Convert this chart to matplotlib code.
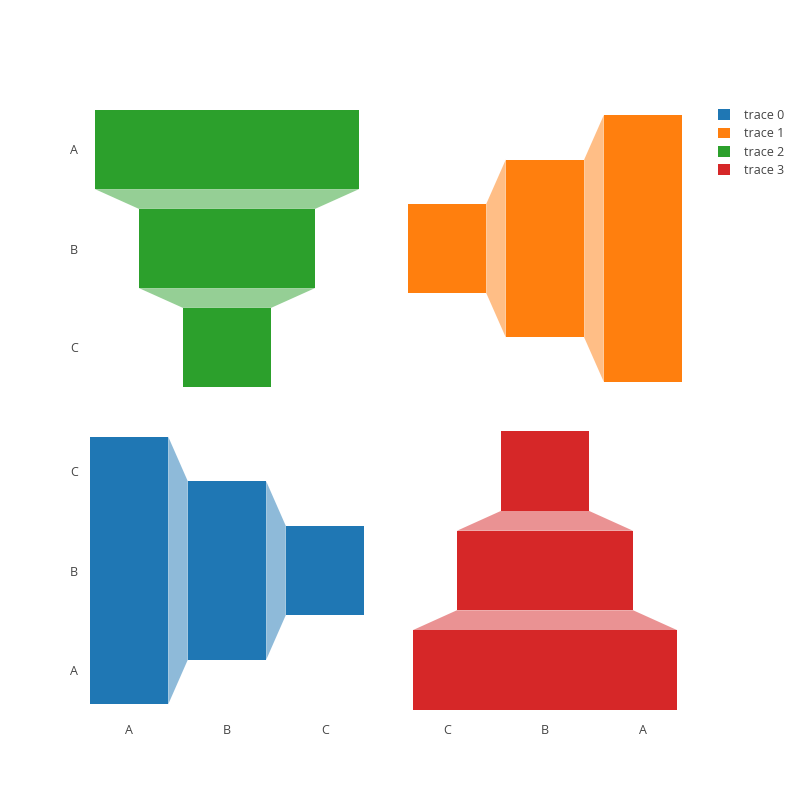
import matplotlib
matplotlib.use("Agg")
import matplotlib.pyplot as plt
from matplotlib.patches import Patch

plt.rcParams['font.family'] = ['Open Sans', 'DejaVu Sans']

# trace 0: vertical funnel, bottom-left
trace0_x = ['A', 'B', 'C']
trace0_y = [3, 2, 1]
# trace 1: vertical funnel, top-right
trace1_x = ['C', 'B', 'A']
trace1_y = [1, 2, 3]
# trace 2: horizontal funnel, top-left
trace2_y = ['A', 'B', 'C']
trace2_x = [3, 2, 1]
# trace 3: horizontal funnel, bottom-right
trace3_y = ['A', 'B', 'C']
trace3_x = [3, 2, 1]

names = ['trace 0', 'trace 1', 'trace 2', 'trace 3']
colors = ['#1f77b4', '#ff7f0e', '#2ca02c', '#d62728']
TXT = '#444444'


def funnel(ax, values, color, horizontal, width=0.8):
    h = width / 2
    for i, v in enumerate(values):
        if horizontal:
            ax.fill_between([-v / 2, v / 2], i - h, i + h, color=color, lw=0)
        else:
            ax.fill_between([i - h, i + h], -v / 2, v / 2, color=color, lw=0)
    # connectors between consecutive bars
    for i in range(len(values) - 1):
        a, b = values[i] / 2, values[i + 1] / 2
        if horizontal:
            xs = [-a, a, b, -b]
            ys = [i + h, i + h, i + 1 - h, i + 1 - h]
        else:
            xs = [i + h, i + h, i + 1 - h, i + 1 - h]
            ys = [-a, a, b, -b]
        ax.fill(xs, ys, color=color, alpha=0.5, lw=0)
    vmax = max(values) / 2 * 1.113
    n = len(values)
    if horizontal:
        ax.set_xlim(-vmax, vmax)
        ax.set_ylim(-0.5, n - 0.5)
    else:
        ax.set_ylim(-vmax, vmax)
        ax.set_xlim(-0.5, n - 0.5)


def clean(ax):
    for s in ax.spines.values():
        s.set_visible(False)
    ax.set_xticks([])
    ax.set_yticks([])
    ax.patch.set_alpha(0)


fig = plt.figure(figsize=(8, 8), dpi=100)

W, H = 800, 800
colL = (80, 374)
colR = (398, 692)
rowT = (100, 397)
rowB = (421.5, 719.5)


def rect(col, row):
    return [col[0] / W, 1 - row[1] / H, (col[1] - col[0]) / W, (row[1] - row[0]) / H]


ax_tl = fig.add_axes(rect(colL, rowT))
ax_tr = fig.add_axes(rect(colR, rowT))
ax_bl = fig.add_axes(rect(colL, rowB))
ax_br = fig.add_axes(rect(colR, rowB))

funnel(ax_tl, trace2_x, colors[2], True)
funnel(ax_tr, trace1_y, colors[1], False)
funnel(ax_bl, trace0_y, colors[0], False)
funnel(ax_br, trace3_x, colors[3], True)

for ax in (ax_tl, ax_tr, ax_bl, ax_br):
    clean(ax)

# top-left: category y axis, first category at top
ax_tl.set_ylim(len(trace2_y) - 0.5, -0.5)
ax_tl.set_yticks(range(len(trace2_y)), trace2_y)

# bottom-left: category x axis
ax_bl.set_xticks(range(len(trace0_x)), trace0_x)

# bottom-left y labels come from trace 3's category axis
ax_bl_y = fig.add_axes(rect(colL, rowB), sharey=ax_br)
clean(ax_bl_y)
ax_bl_y.set_yticks(range(len(trace3_y)), trace3_y)
ax_bl_y.set_zorder(-1)

# bottom-right x labels come from trace 1's category axis
ax_br_x = fig.add_axes(rect(colR, rowB), sharex=ax_tr)
clean(ax_br_x)
ax_br_x.set_xticks(range(len(trace1_x)), trace1_x)
ax_br_x.set_zorder(-1)
ax_tr.tick_params(labelbottom=False, length=0)
ax_br.tick_params(labelleft=False, length=0)

for ax in (ax_tl, ax_bl, ax_bl_y, ax_br_x):
    ax.tick_params(length=0, labelsize=9, labelcolor=TXT)
    ax.tick_params(axis='y', pad=1.5)
    ax.tick_params(axis='x', pad=3.0)

handles = [Patch(facecolor=c, edgecolor='none') for c in colors]
fig.legend(handles, names, loc='upper left', bbox_to_anchor=(713 / W, 1 - 104 / H),
           frameon=False, fontsize=9, labelcolor=TXT, handlelength=0.95,
           handleheight=0.95, handletextpad=1.15, labelspacing=0.42, borderaxespad=0)

fig.savefig('out.png', dpi=100, facecolor='white')
